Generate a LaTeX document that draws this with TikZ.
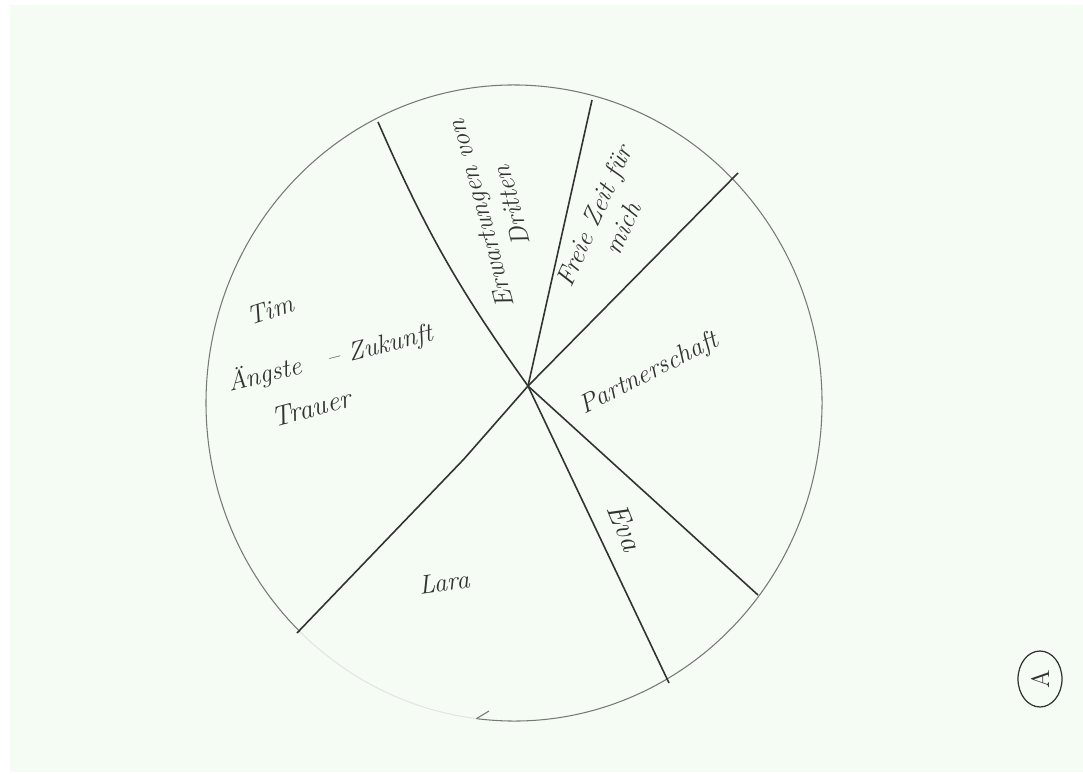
\documentclass[tikz,border=0pt]{standalone}
\usetikzlibrary{shapes.geometric}
\definecolor{paper}{RGB}{245,252,244}
\definecolor{ink}{RGB}{50,50,50}
\definecolor{rimgray}{RGB}{120,120,120}
\tikzset{
  cut/.style={draw=ink, line width=0.9pt, line join=round},
  rim/.style={draw=rimgray, line width=0.6pt},
  hand/.style={text=ink, font=\fontsize{15}{18}\selectfont\itshape, align=center, inner sep=1pt}
}
\begin{document}
\begin{tikzpicture}[x=0.02cm, y=-0.02cm]
  \useasboundingbox (0,0) rectangle (1083,774);
  \fill[white] (0,0) rectangle (1083,774);
  \fill[paper] (10,5) rectangle (1083,772);
  % circle
  \coordinate (M) at (514,403);
  \draw[rim] (M) ++(97:308 and 318) arc[start angle=97, end angle=-226, x radius=308, y radius=318];
  \draw[rim, draw=rimgray!20] (M) ++(134:308 and 318) arc[start angle=134, end angle=97, x radius=308, y radius=318];
  \draw[rim] (M) ++(97:308 and 318) -- (489,711);
  % slices
  \coordinate (O) at (528,386);
  \coordinate (P1) at (378,122); \coordinate (P2) at (592,100); \coordinate (P3) at (738,173);
  \coordinate (P4) at (758,595); \coordinate (P5) at (669,683); \coordinate (P6) at (297,633);
  \coordinate (K) at (464,459);
  \draw[cut] (P1) to[bend right=6] (O);
  \draw[cut] (O) -- (P2);
  \draw[cut] (O) -- (P3);
  \draw[cut] (O) -- (P4);
  \draw[cut] (O) -- (P5);
  \draw[cut] (O) -- (K) -- (P6);
  % labels
  \node[hand, rotate=18] (tim) at (270,310) {Tim};
  \node[hand, rotate=14] (angst) at (330,358) {Ängste\quad -- Zukunft};
  \node[hand, rotate=15, font=\fontsize{16}{18}\selectfont\itshape] (trauer) at (311,408) {Trauer};
  \node[hand, rotate=105] (dritte) at (496,210) {Erwartungen von\\Dritten};
  \node[hand, rotate=66] (zeit) at (608,222) {Freie Zeit für\\mich};
  \node[hand, rotate=27] (partner) at (649,374) {Partnerschaft};
  \node[hand, rotate=-68, font=\fontsize{17}{18}\selectfont\itshape] (eva) at (625,527) {Eva};
  \node[hand, rotate=8] (lara) at (444,582) {Lara};
  \node[draw=ink, line width=0.7pt, ellipse, inner sep=0pt, minimum width=0.88cm, minimum height=1.12cm, text=ink, font=\Large] (seite) at (1040,679) {\rotatebox{90}{A}};
\end{tikzpicture}
\end{document}
